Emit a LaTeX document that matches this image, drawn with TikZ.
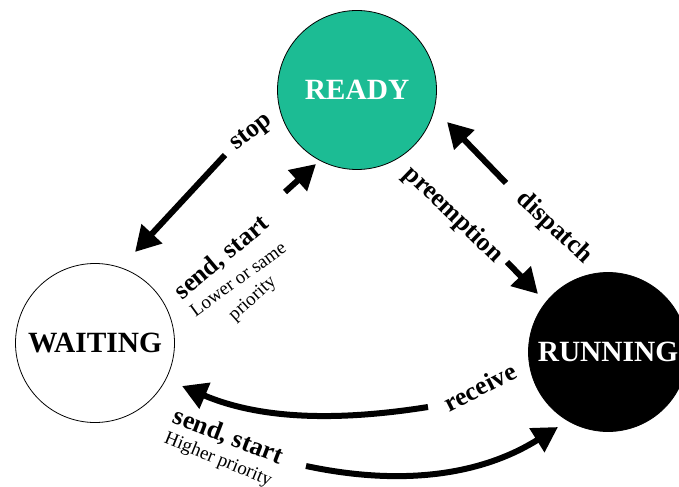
\documentclass[tikz,border=0pt]{standalone}
\usepackage{fontspec}
\setmainfont{Liberation Serif}
\usetikzlibrary{arrows.meta}
\definecolor{readygreen}{RGB}{28,188,148}
\begin{document}
\begin{tikzpicture}[x=1bp,y=-1bp,
  state/.style={circle, draw=black, line width=0.8bp, minimum size=159bp, inner sep=0pt,
    font=\fontsize{29.5}{32}\selectfont\bfseries},
  bigarrow/.style={line width=6bp, -{Triangle[length=25bp,width=27bp]}},
  boldlbl/.style={font=\fontsize{26}{30}\selectfont\bfseries, inner sep=0pt},
  smalllbl/.style={font=\fontsize{19}{22}\selectfont, inner sep=0pt}]
  \useasboundingbox (0,0) rectangle (679,487);
  \begin{scope}
  \clip (0,0) rectangle (679,487);
  % the three states
  \node[state, fill=readygreen, text=white] (ready) at (357,90) {READY};
  \node[state, fill=white, text=black] (waiting) at (95,343) {WAITING};
  \node[state, fill=black, text=white] (running) at (608,352) {RUNNING};
  \end{scope}

  % end points of the transition arrows
  \coordinate (stopA) at (225,155);  \coordinate (stopB) at (135,252);
  \coordinate (wrA) at (285,192);    \coordinate (wrB) at (316,164);
  \coordinate (dispA) at (506,183);  \coordinate (dispB) at (447,122);
  \coordinate (preA) at (507,262);   \coordinate (preB) at (538,294);
  \coordinate (recA) at (428,407);   \coordinate (recB) at (182,386);
  \coordinate (hiA) at (306,466);    \coordinate (hiB) at (558,427);

  % transitions
  \draw[bigarrow] (stopA) -- (stopB);
  \draw[bigarrow] (wrA) -- (wrB);
  \draw[bigarrow] (dispA) -- (dispB);
  \draw[bigarrow] (preA) -- (preB);
  \draw[bigarrow] (recA) .. controls (340,421) and (262,420) .. (recB);
  \draw[bigarrow] (hiA) .. controls (400,486) and (480,476) .. (hiB);

  % transition labels
  \node[boldlbl, rotate=38] (lstop) at (252,133) {stop};
  \node[boldlbl, rotate=40] (lsend1) at (222,258) {send, start};
  \node[smalllbl, rotate=36] (llow) at (238,279) {Lower or same};
  \node[smalllbl, rotate=42] (lprio1) at (253,299) {priority};
  \node[boldlbl, rotate=-43] (ldisp) at (554,228) {dispatch};
  \node[boldlbl, rotate=-44] (lpre) at (453,215) {preemption};
  \node[boldlbl, rotate=27] (lrec) at (480,387) {receive};
  \node[boldlbl, rotate=-21] (lsend2) at (228,437) {send, start};
  \node[smalllbl, rotate=-22] (lhigh) at (218,460) {Higher priority};
\end{tikzpicture}
\end{document}
